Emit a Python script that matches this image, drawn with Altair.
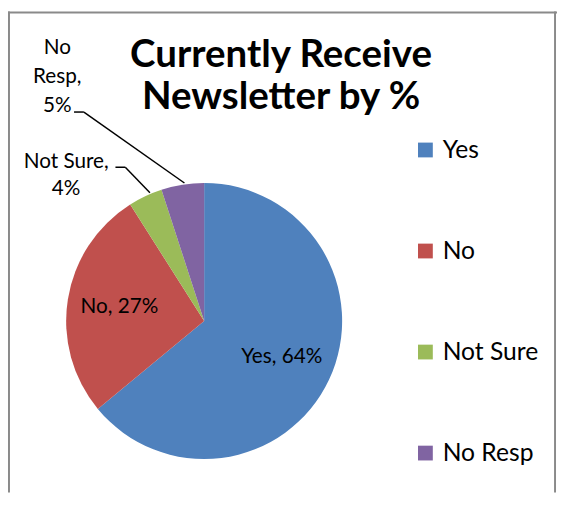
import altair as alt
import pandas as pd

# Data
categories = ["Yes", "No", "Not Sure", "No Resp"]
percents = [64, 27, 4, 5]
colors = ["#4F81BD", "#C0504D", "#9BBB59", "#8064A2"]
title_lines = ["Currently Receive", "Newsletter by %"]

df = pd.DataFrame({"cat": categories, "value": percents, "idx": list(range(len(categories)))})

W, H = 557, 488
CX, CY, R = 199, 314, 140
FONT = "Lato"

base = alt.Chart(df).encode(
    theta=alt.Theta("value:Q", stack=True),
    order=alt.Order("idx:Q"),
)

pie = base.mark_arc(outerRadius=R, stroke=None).encode(
    x=alt.value(CX), y=alt.value(CY),
    color=alt.Color(
        "cat:N",
        scale=alt.Scale(domain=categories, range=colors),
        legend=alt.Legend(
            title=None, orient="none", legendX=411, legendY=128,
            symbolType="square", symbolSize=225, symbolStrokeWidth=0,
            symbolOpacity=1, labelFontSize=25, labelFont=FONT,
            labelColor="black", labelOffset=5, rowPadding=76.5, padding=0,
            labelLimit=300,
        ),
    ),
)

inside = base.transform_calculate(
    label="datum.cat + ', ' + datum.value + '%'"
).mark_text(radius=87, font=FONT, fontSize=21, color="black").encode(
    x=alt.value(CX), y=alt.value(CY),
    text="label:N",
    opacity=alt.condition("datum.idx < 2", alt.value(1), alt.value(0)),
)

notsure = alt.Chart(df).transform_filter("datum.cat == 'Not Sure'").transform_calculate(
    label="datum.cat + ',\\n' + datum.value + '%'"
).mark_text(font=FONT, fontSize=21, color="black", lineBreak="\n", lineHeight=27,
            align="center", baseline="middle").encode(
    x=alt.value(59), y=alt.value(153), text="label:N")

noresp = alt.Chart(df).transform_filter("datum.cat == 'No Resp'").transform_calculate(
    label="datum.cat + ', ' + datum.value + '%'"
).mark_text(font=FONT, fontSize=21, color="black", lineBreak=" ", lineHeight=29.5,
            align="center", baseline="middle").encode(
    x=alt.value(50), y=alt.value(37), text="label:N")

title = alt.Chart(pd.DataFrame({"t": ["\n".join(title_lines)]})).mark_text(
    font=FONT, fontSize=39, fontWeight="bold", color="black", lineBreak="\n",
    lineHeight=43, align="center", baseline="alphabetic"
).encode(x=alt.value(277), y=alt.value(56), text="t:N")

line_style = dict(color="black", strokeWidth=1.5)
lead = alt.Chart(df).transform_filter("datum.idx == 0")
leaders = [
    lead.mark_rule(**line_style).encode(x=alt.value(67), x2=alt.value(77), y=alt.value(102), y2=alt.value(102)),
    lead.mark_rule(**line_style).encode(x=alt.value(77), x2=alt.value(179), y=alt.value(102), y2=alt.value(174)),
    lead.mark_rule(**line_style).encode(x=alt.value(109), x2=alt.value(119), y=alt.value(158), y2=alt.value(158)),
    lead.mark_rule(**line_style).encode(x=alt.value(119), x2=alt.value(144), y=alt.value(158), y2=alt.value(184)),
]

border_style = dict(color="#8a8a8a", strokeWidth=2)
borders = [
    lead.mark_rule(**border_style).encode(x=alt.value(1), x2=alt.value(1), y=alt.value(0), y2=alt.value(H)),
    lead.mark_rule(**border_style).encode(x=alt.value(0), x2=alt.value(W), y=alt.value(1), y2=alt.value(1)),
    lead.mark_rule(**border_style).encode(x=alt.value(W - 2), x2=alt.value(W - 2), y=alt.value(0), y2=alt.value(H)),
]

chart = alt.layer(pie, inside, notsure, noresp, title, *leaders, *borders).properties(
    width=W, height=H, padding=0, autosize=alt.AutoSizeParams(type="none"),
    background="white",
).configure_view(stroke=None)

chart.save("out.html", embed_options={"renderer": "svg", "actions": False})
